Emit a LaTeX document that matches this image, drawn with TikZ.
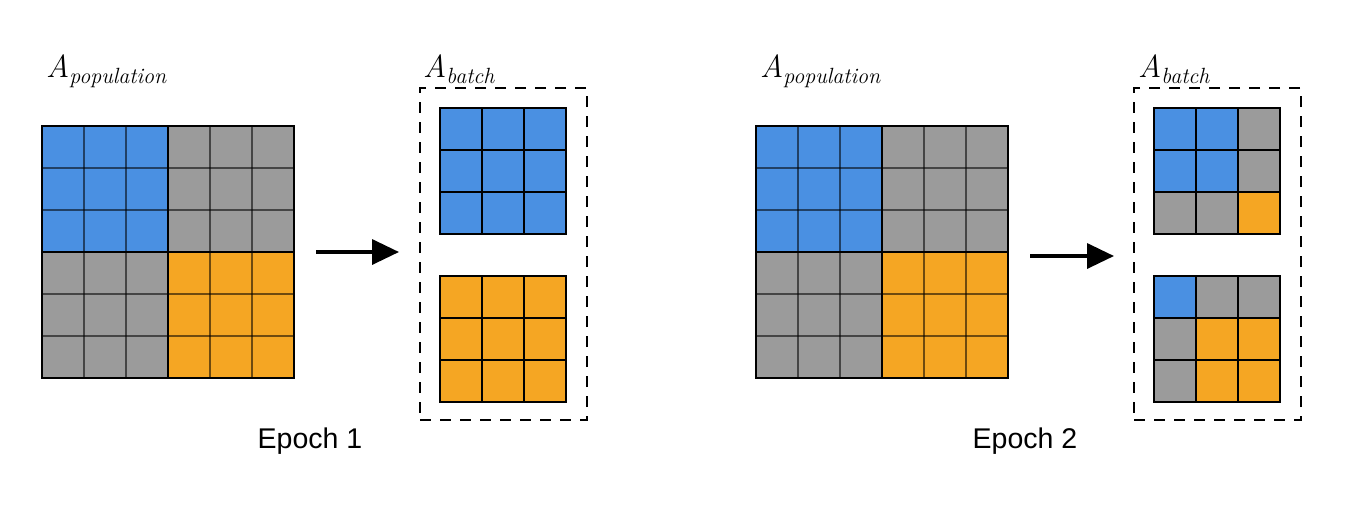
\documentclass[tikz,border=0pt]{standalone}
\usepackage{fontspec}
\setmainfont{Liberation Sans}
\newfontfamily\lmfont{Latin Modern Roman}
\usetikzlibrary{arrows.meta}
\definecolor{cblue}{HTML}{4A90E2}
\definecolor{cgray}{HTML}{9B9B9B}
\definecolor{corange}{HTML}{F5A623}
\newcommand\sublabel[1]{{\lmfont\itshape\fontsize{32}{38}\selectfont A}\raisebox{-6pt}{\lmfont\itshape\fontsize{22}{26}\selectfont #1}}
\tikzset{
  innerline/.style={draw=black, draw opacity=0.55, line width=1.2pt},
  midline/.style={draw=black, line width=1.5pt},
  outerline/.style={draw=black, line width=2pt},
  sline/.style={draw=black, line width=1.5pt},
  souter/.style={draw=black, line width=2pt},
  batchbox/.style={draw=black, line width=1.6pt, dash pattern=on 11pt off 9pt, minimum width=167pt, minimum height=332pt, inner sep=0pt},
  arr/.style={line width=3.5pt, -{Triangle[length=27pt,width=25pt]}},
  alabel/.style={anchor=base west, inner sep=0pt},
  elabel/.style={inner sep=0pt, font=\fontsize{28.5}{34}\selectfont},
}
\newcommand\biggrid[2]{%
  \begin{scope}[shift={(#1,#2)}]
    \fill[cblue] (0,0) rectangle (126,126);
    \fill[cgray] (126,0) rectangle (252,126);
    \fill[cgray] (0,126) rectangle (126,252);
    \fill[corange] (126,126) rectangle (252,252);
    \foreach \k in {42,84,168,210} {
      \draw[innerline] (\k,0) -- (\k,252);
      \draw[innerline] (0,\k) -- (252,\k);
    }
    \draw[midline] (126,0) -- (126,252) (0,126) -- (252,126);
    \draw[outerline] (0,0) rectangle (252,252);
  \end{scope}}
\newcommand\smallgrid[3]{%
  \begin{scope}[shift={(#1,#2)}]
    \foreach \c [count=\n from 0] in {#3} {
      \pgfmathtruncatemacro\rr{int(\n/3)}
      \pgfmathtruncatemacro\cc{\n-3*\rr}
      \fill[\c] (\cc*42,\rr*42) rectangle ++(42,42);
    }
    \foreach \k in {42,84} {
      \draw[sline] (\k,0) -- (\k,126);
      \draw[sline] (0,\k) -- (126,\k);
    }
    \draw[souter] (0,0) rectangle (126,126);
  \end{scope}}
\begin{document}
\begin{tikzpicture}[x=1pt,y=-1pt]
\useasboundingbox (0,0) rectangle (1348,507);
% Epoch 1
\biggrid{42}{126}
\node[batchbox] (b1) at (503.5,254) {};
\smallgrid{440}{108}{cblue,cblue,cblue,cblue,cblue,cblue,cblue,cblue,cblue}
\smallgrid{440}{276}{corange,corange,corange,corange,corange,corange,corange,corange,corange}
\coordinate (a1s) at (316,252);
\coordinate (a1e) at (399,252);
\draw[arr] (a1s) -- (a1e);
\node[alabel] (p1) at (46,77) {\sublabel{population}};
\node[alabel] (t1) at (423,77) {\sublabel{batch}};
\node[elabel] (e1) at (310,441) {Epoch 1};
% Epoch 2
\biggrid{756}{126}
\node[batchbox] (b2) at (1217.5,254) {};
\smallgrid{1154}{108}{cblue,cblue,cgray,cblue,cblue,cgray,cgray,cgray,corange}
\smallgrid{1154}{276}{cblue,cgray,cgray,cgray,corange,corange,cgray,corange,corange}
\coordinate (a2s) at (1030,256);
\coordinate (a2e) at (1114,256);
\draw[arr] (a2s) -- (a2e);
\node[alabel] (p2) at (760,77) {\sublabel{population}};
\node[alabel] (t2) at (1138,77) {\sublabel{batch}};
\node[elabel] (e2) at (1025,441) {Epoch 2};
\end{tikzpicture}
\end{document}
